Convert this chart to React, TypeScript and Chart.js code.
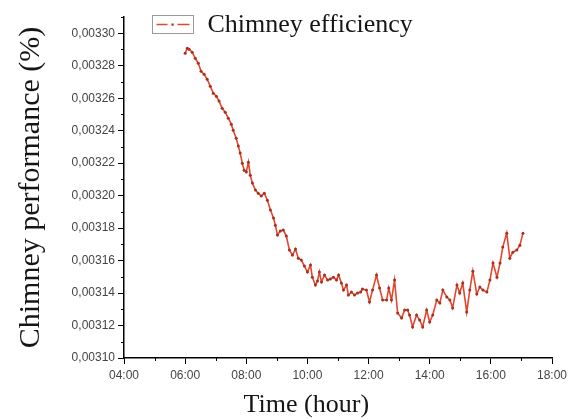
import React, { useEffect, useRef } from 'react';
import { Chart, registerables } from 'chart.js';

Chart.register(...registerables);

// Time of day in decimal hours
const times = [
  6.0, 6.07, 6.13, 6.23, 6.33, 6.43, 6.52, 6.62, 6.72, 6.82,
  6.92, 7.02, 7.11, 7.21, 7.31, 7.41, 7.51, 7.57, 7.67, 7.74,
  7.8, 7.87, 7.93, 8.0, 8.07, 8.13, 8.2, 8.3, 8.39, 8.49,
  8.59, 8.69, 8.79, 8.89, 8.95, 9.02, 9.11, 9.21, 9.31, 9.41,
  9.51, 9.61, 9.7, 9.8, 9.9, 10.0, 10.1, 10.16, 10.26, 10.33,
  10.39, 10.46, 10.56, 10.66, 10.75, 10.85, 10.95, 11.02, 11.11, 11.18,
  11.28, 11.34, 11.44, 11.54, 11.64, 11.74, 11.8, 11.93, 12.03, 12.13,
  12.26, 12.36, 12.46, 12.59, 12.66, 12.75, 12.85, 12.95, 13.08, 13.18,
  13.28, 13.34, 13.44, 13.57, 13.67, 13.77, 13.9, 14.0, 14.1, 14.23,
  14.33, 14.43, 14.56, 14.66, 14.75, 14.89, 14.98, 15.08, 15.21, 15.31,
  15.41, 15.54, 15.64, 15.74, 15.87, 15.97, 16.07, 16.2, 16.3, 16.39,
  16.52, 16.62, 16.72, 16.85, 16.95, 17.05,
];

// Chimney efficiency values
const efficiency = [
  0.0032877, 0.0032908, 0.0032902, 0.0032883, 0.0032846, 0.0032815, 0.0032766, 0.0032748, 0.0032717, 0.0032674,
  0.0032631, 0.0032612, 0.0032582, 0.0032538, 0.0032514, 0.0032477, 0.003244, 0.0032403, 0.0032354, 0.0032305,
  0.0032262, 0.00322, 0.0032157, 0.0032145, 0.0032206, 0.0032126, 0.0032077, 0.0032034, 0.0032015, 0.0031997,
  0.0032015, 0.0031972, 0.0031911, 0.0031862, 0.0031818, 0.0031757, 0.0031782, 0.0031788, 0.0031751, 0.0031665,
  0.0031634, 0.0031671, 0.0031615, 0.0031603, 0.0031566, 0.0031529, 0.0031572, 0.0031498, 0.0031449, 0.0031474,
  0.0031529, 0.0031468, 0.0031511, 0.003148, 0.0031486, 0.0031498, 0.003148, 0.0031511, 0.0031462, 0.0031418,
  0.0031449, 0.0031388, 0.0031406, 0.0031388, 0.00314, 0.0031406, 0.0031425, 0.0031418, 0.0031345, 0.0031418,
  0.0031511, 0.0031431, 0.0031357, 0.0031357, 0.0031431, 0.0031357, 0.003148, 0.0031277, 0.0031246, 0.0031295,
  0.0031295, 0.0031265, 0.0031191, 0.0031265, 0.0031234, 0.0031191, 0.0031295, 0.0031222, 0.0031265, 0.0031357,
  0.0031338, 0.0031418, 0.0031375, 0.0031357, 0.0031308, 0.0031449, 0.00314, 0.0031462, 0.0031283, 0.0031418,
  0.0031535, 0.0031394, 0.0031437, 0.0031418, 0.0031406, 0.003148, 0.0031585, 0.0031498, 0.0031585, 0.0031683,
  0.0031769, 0.0031615, 0.0031652, 0.0031665, 0.0031695, 0.0031769,
];

const xTickValues = [4, 6, 8, 10, 12, 14, 16, 18];
const xMinorTickValues = [5, 7, 9, 11, 13, 15, 17];
const yTickValues = [0.0031, 0.00312, 0.00314, 0.00316, 0.00318, 0.0032, 0.00322, 0.00324, 0.00326, 0.00328, 0.0033];
const yMinorTickValues = [0.00311, 0.00313, 0.00315, 0.00317, 0.00319, 0.00321, 0.00323, 0.00325, 0.00327, 0.00329, 0.00331];

const seriesLabel = 'Chimney efficiency';
const xTitle = 'Time (hour)';
const yTitle = 'Chimney performance (%)';

const SERIF = '"Liberation Serif", "Times New Roman", serif';
const SANS = '"Liberation Sans", Arial, sans-serif';
const LINE_COLOR = '#e4472f';
const POINT_COLOR = '#a8301f';

function formatHour(v: number): string {
  const h = Math.round(v);
  return (h < 10 ? '0' : '') + h + ':00';
}
function formatValue(v: number): string {
  return v.toFixed(5).replace('.', ',');
}

const decorPlugin = {
  id: 'decor',
  afterDraw(chart: any) {
    const { ctx, chartArea, scales } = chart;
    const x = scales.x;
    const y = scales.y;
    ctx.save();
    // minor ticks
    ctx.strokeStyle = '#000';
    ctx.lineWidth = 1;
    xMinorTickValues.forEach((v) => {
      const px = Math.round(x.getPixelForValue(v)) + 0.5;
      ctx.beginPath();
      ctx.moveTo(px, chartArea.bottom);
      ctx.lineTo(px, chartArea.bottom + 3);
      ctx.stroke();
    });
    yMinorTickValues.forEach((v) => {
      const py = Math.round(y.getPixelForValue(v)) + 0.5;
      ctx.beginPath();
      ctx.moveTo(chartArea.left, py);
      ctx.lineTo(chartArea.left - 3, py);
      ctx.stroke();
    });
    // x axis title
    ctx.font = '26px ' + SERIF;
    ctx.fillStyle = '#151515';
    ctx.textAlign = 'center';
    ctx.textBaseline = 'alphabetic';
    ctx.fillText(xTitle, chartArea.left + (chartArea.right - chartArea.left) * 0.426, chart.height - 7);
    // legend
    const bx = chartArea.left + 28.5;
    const by = chartArea.top - 1.5;
    const bw = 41;
    const bh = 18;
    ctx.strokeStyle = '#9a9a9a';
    ctx.lineWidth = 1;
    ctx.strokeRect(bx, by, bw, bh);
    ctx.strokeStyle = LINE_COLOR;
    ctx.lineWidth = 1.4;
    ctx.beginPath();
    ctx.moveTo(bx + 4, by + bh / 2);
    ctx.lineTo(bx + 15, by + bh / 2);
    ctx.moveTo(bx + 25, by + bh / 2);
    ctx.lineTo(bx + 37, by + bh / 2);
    ctx.stroke();
    ctx.fillStyle = POINT_COLOR;
    ctx.fillRect(bx + 19, by + bh / 2 - 1, 2.2, 2.2);
    ctx.font = '26px ' + SERIF;
    ctx.fillStyle = '#151515';
    ctx.textAlign = 'left';
    ctx.textBaseline = 'middle';
    ctx.fillText(seriesLabel, bx + 55, by + bh / 2 + 1);
    ctx.restore();
  },
};

export default function App() {
  const canvasRef = useRef<HTMLCanvasElement | null>(null);

  useEffect(() => {
    if (!canvasRef.current) return;
    const chart = new Chart(canvasRef.current, {
      type: 'line',
      data: {
        datasets: [
          {
            label: seriesLabel,
            data: times.map((t, i) => ({ x: t, y: efficiency[i] })),
            borderColor: LINE_COLOR,
            backgroundColor: POINT_COLOR,
            borderWidth: 1.6,
            pointRadius: 1.5,
            pointBorderWidth: 0,
            pointBackgroundColor: POINT_COLOR,
            tension: 0,
            fill: false,
          },
        ],
      },
      options: {
        responsive: false,
        animation: false,
        devicePixelRatio: 1,
        layout: { padding: { top: 17, right: 20, left: 0, bottom: 0 } },
        plugins: {
          legend: { display: false },
          tooltip: { enabled: false },
        },
        scales: {
          x: {
            type: 'linear',
            min: 4,
            max: 18,
            afterFit: (scale: any) => {
              scale.height = 61;
            },
            afterBuildTicks: (scale: any) => {
              scale.ticks = xTickValues.map((v) => ({ value: v }));
            },
            ticks: {
              callback: (v: any) => formatHour(Number(v)),
              font: { size: 12, family: SANS },
              color: '#444',
              padding: 4,
              maxRotation: 0,
              autoSkip: false,
            },
            grid: {
              drawOnChartArea: false,
              drawTicks: true,
              tickLength: 6,
              color: '#000',
              lineWidth: 1,
            },
            border: { display: true, color: '#000', width: 1.5 },
          },
          y: {
            type: 'linear',
            min: 0.0031,
            max: 0.00331,
            afterFit: (scale: any) => {
              scale.width = 124;
            },
            afterBuildTicks: (scale: any) => {
              scale.ticks = yTickValues.map((v) => ({ value: v }));
            },
            ticks: {
              callback: (v: any) => formatValue(Number(v)),
              font: { size: 12, family: SANS },
              color: '#444',
              padding: 3,
              autoSkip: false,
            },
            grid: {
              drawOnChartArea: false,
              drawTicks: true,
              tickLength: 6,
              color: '#000',
              lineWidth: 1,
            },
            border: { display: true, color: '#000', width: 1.5 },
            title: {
              display: true,
              text: yTitle,
              color: '#151515',
              font: { size: 30, family: SERIF, lineHeight: 1 },
              padding: { top: 16, bottom: 0 },
            },
          },
        },
      },
      plugins: [decorPlugin],
    });
    return () => chart.destroy();
  }, []);

  return (
    <div style={{ position: 'absolute', left: 0, top: 0, width: 572, height: 419, background: '#fff' }}>
      <canvas ref={canvasRef} width={572} height={419} />
    </div>
  );
}
